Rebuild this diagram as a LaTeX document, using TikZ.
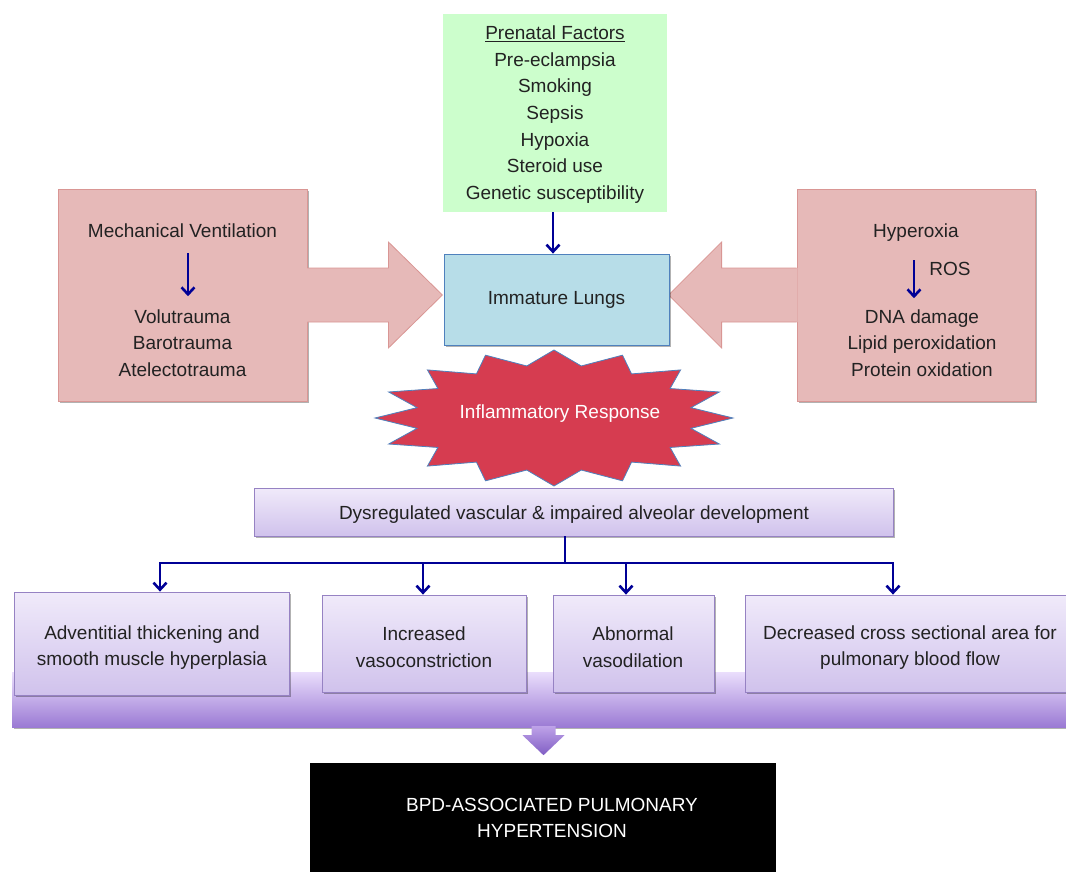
\documentclass[tikz,border=0pt]{standalone}
\usepackage{fontspec}
\setmainfont{Liberation Sans}
\usetikzlibrary{arrows.meta,shadows,calc}
\definecolor{navy}{RGB}{0,0,150}
\definecolor{txt}{RGB}{34,34,34}
\definecolor{greenfill}{RGB}{204,254,204}
\definecolor{lungfill}{RGB}{183,221,232}
\definecolor{lungborder}{RGB}{79,129,189}
\definecolor{pinkfill}{RGB}{230,185,184}
\definecolor{pinkborder}{RGB}{217,150,148}
\definecolor{burstfill}{RGB}{214,60,80}
\definecolor{ptop}{RGB}{240,234,250}
\definecolor{pbot}{RGB}{208,194,236}
\definecolor{pborder}{RGB}{150,130,195}
\definecolor{bartop}{RGB}{234,222,252}
\definecolor{barbot}{RGB}{155,122,212}
\definecolor{arrtop}{RGB}{190,162,232}
\definecolor{arrbot}{RGB}{128,94,196}
\tikzset{
  shadowed/.style={drop shadow={shadow xshift=2pt,shadow yshift=-2pt,opacity=0.3,fill=black}},
  plain/.style={text=txt,align=center,inner sep=0pt},
  greenbox/.style={fill=greenfill,minimum width=224,minimum height=198,inner sep=0pt},
  lungbox/.style={fill=lungfill,draw=lungborder,line width=0.8pt,minimum width=225,minimum height=91,text=txt,shadowed},
  pinkbox/.style={fill=pinkfill,draw=pinkborder,line width=0.8pt,minimum height=212,shadowed},
  navyarrow/.style={draw=navy,line width=2.6pt,-{Straight Barb[length=7pt,width=13pt]}},
  navyline/.style={draw=navy,line width=2.6pt},
  pbox/.style={top color=ptop,bottom color=pbot,draw=pborder,line width=0.8pt,text=txt,align=center,shadowed},
  burst/.style={fill=burstfill,draw=lungborder,line width=0.8pt},
}
\begin{document}
\begin{tikzpicture}[x=1pt,y=-1pt,font=\fontsize{19}{26.6}\selectfont]
\useasboundingbox (0,0) rectangle (1066,872);

% prenatal factors
\node[greenbox] (pre) at (555,113) {};
\node[plain] (pretext) at (555,114.5) {\underline{Prenatal Factors}\\Pre-eclampsia\\Smoking\\Sepsis\\Hypoxia\\Steroid use\\Genetic susceptibility};

% pink boxes
\node[pinkbox,minimum width=249] (mv) at (182.5,295) {};
\node[pinkbox,minimum width=238] (hy) at (916,295) {};

% block arrows
\fill[pinkfill] ($(mv.east)+(-1,-27)$) -- ($(mv.east)+(81,-27)$) -- ($(mv.east)+(81,-53)$) -- ($(mv.east)+(135,0)$)
  -- ($(mv.east)+(81,53)$) -- ($(mv.east)+(81,27)$) -- ($(mv.east)+(-1,27)$) -- cycle;
\draw[pinkborder,line width=0.8pt,line join=miter] ($(mv.east)+(0,-27)$) -- ($(mv.east)+(81,-27)$) -- ($(mv.east)+(81,-53)$) -- ($(mv.east)+(135,0)$)
  -- ($(mv.east)+(81,53)$) -- ($(mv.east)+(81,27)$) -- ($(mv.east)+(0,27)$);
\fill[pinkfill] ($(hy.west)+(1,-27)$) -- ($(hy.west)+(-75,-27)$) -- ($(hy.west)+(-75,-53)$) -- ($(hy.west)+(-128,0)$)
  -- ($(hy.west)+(-75,53)$) -- ($(hy.west)+(-75,27)$) -- ($(hy.west)+(1,27)$) -- cycle;
\draw[pinkborder,line width=0.8pt,line join=miter] ($(hy.west)+(0,-27)$) -- ($(hy.west)+(-75,-27)$) -- ($(hy.west)+(-75,-53)$) -- ($(hy.west)+(-128,0)$)
  -- ($(hy.west)+(-75,53)$) -- ($(hy.west)+(-75,27)$) -- ($(hy.west)+(0,27)$);

% immature lungs
\node[lungbox] (lungs) at (556.5,299.5) {Immature Lungs};
\draw[navyarrow] (pre.south -| 553,0) -- (lungs.north -| 553,0);

% left box texts
\node[plain] (mvtitle) at (182.5,231) {Mechanical Ventilation};
\node[plain] (mvlist) at (182.5,343) {Volutrauma\\Barotrauma\\Atelectotrauma};
\draw[navyarrow,shorten <=15pt,shorten >=13pt] ([xshift=5.5pt]mvtitle.south) -- ([xshift=5.5pt]mvlist.north);

% right box texts
\node[plain] (hytitle) at (916,233) {Hyperoxia};
\node[plain] (hylist) at (922,343) {DNA damage\\Lipid peroxidation\\Protein oxidation};
\draw[navyarrow,shorten <=18pt,shorten >=11pt] ([xshift=-2pt]hytitle.south) -- ([xshift=-8pt]hylist.north)
  node[pos=0.4,anchor=west,xshift=14pt,plain] (ros) {ROS};

% inflammatory burst
\begin{scope}[shift={(554,418)}]
\draw[burst] (0:179 and 68)
  \foreach \i in {1,...,31}{ -- ({\i*11.25}:{ifthenelse(isodd(\i),0.78,1)*179} and {ifthenelse(isodd(\i),0.78,1)*68}) } -- cycle;
\end{scope}
\node[text=white,inner sep=0pt] (infl) at (560,414) {Inflammatory Response};

% dysregulated
\node[pbox,minimum width=639,minimum height=48] (dys) at (573.5,512) {};
\node[plain] (dystext) at (574,514.5) {Dysregulated vascular \& impaired alveolar development};

% bar
\node[top color=bartop,bottom color=barbot,draw=none,minimum width=1063,minimum height=55,inner sep=0pt,shadowed] (bar) at (543.5,699.5) {};

% lower boxes
\node[pbox,minimum width=275,minimum height=103] (b1) at (151.5,643.5) {};
\node[pbox,minimum width=204,minimum height=97] (b2) at (424,643.5) {};
\node[pbox,minimum width=161,minimum height=97] (b3) at (633.5,643.5) {};
\node[pbox,minimum width=330,minimum height=97] (b4) at (910,643.5) {};
\node[plain] (t1) at (152,647.5) {Adventitial thickening and\\smooth muscle hyperplasia};
\node[plain] (t2) at (424,647.5) {Increased\\vasoconstriction};
\node[plain] (t3) at (633,647.5) {Abnormal\\vasodilation};
\node[plain] (t4) at (910,647.5) {Decreased cross sectional area for\\pulmonary blood flow};

% branch connectors
\coordinate (hub) at (565,563);
\draw[navyline] (dys.south -| hub) -- (hub);
\draw[navyline] ([xshift=8.5pt]b1.north |- hub) -- ([xshift=-17pt]b4.north |- hub);
\draw[navyarrow] (hub) -| ([xshift=8.5pt]b1.north);
\draw[navyarrow] (hub) -| ([xshift=-1pt]b2.north);
\draw[navyarrow] (hub) -| ([xshift=-7.5pt]b3.north);
\draw[navyarrow] (hub) -| ([xshift=-17pt]b4.north);

% bar arrow
\shade[top color=arrtop,bottom color=arrbot] ($(bar.south)+(-12,-1)$) -- ($(bar.south)+(-12,8)$) -- ($(bar.south)+(-21,8)$) -- ($(bar.south)+(0,28)$)
  -- ($(bar.south)+(21,8)$) -- ($(bar.south)+(12,8)$) -- ($(bar.south)+(12,-1)$) -- cycle;

% final box
\node[fill=black,draw=white,line width=4pt,minimum width=470,minimum height=150,anchor=north,inner sep=0pt,shadowed] (bpd) at (543,759) {};
\node[text=white,align=center,inner sep=0pt] (bpdtext) at (552,818) {BPD-ASSOCIATED PULMONARY\\HYPERTENSION};
\end{tikzpicture}
\end{document}
